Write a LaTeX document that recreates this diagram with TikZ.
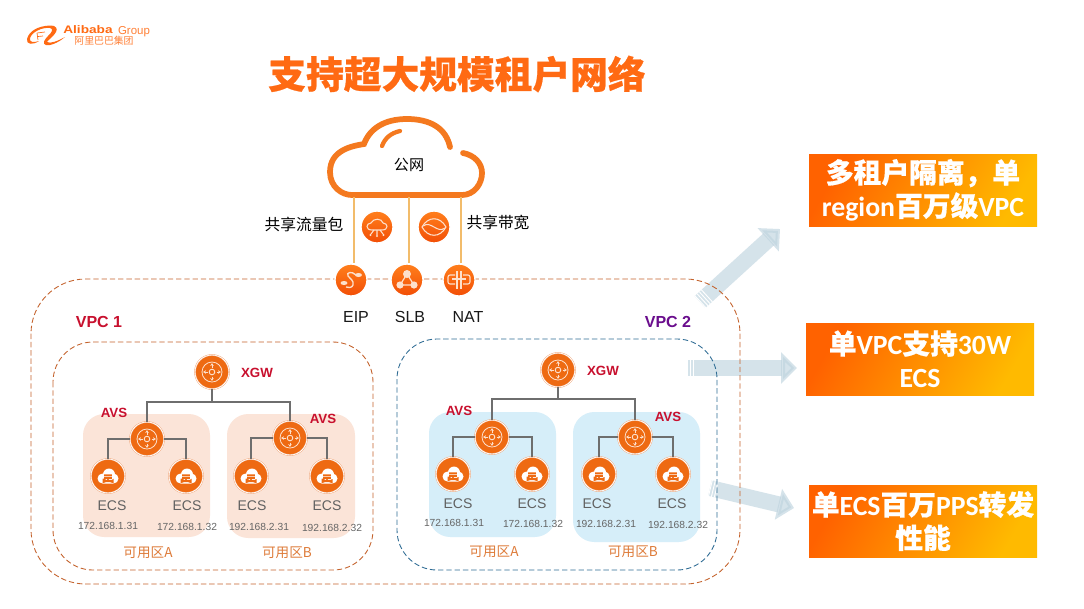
\documentclass[tikz,border=0pt]{standalone}
\usepackage{fontspec}
\setmainfont{Liberation Sans}
\newfontfamily\cjk[BoldFeatures={FakeBold=0.6}]{Noto Sans CJK SC}
\newfontfamily\latinbold{Carlito}
\newcommand{\lat}[1]{{\latinbold #1}}
\usepackage{tikz}
\usetikzlibrary{calc,positioning,arrows.meta}
\definecolor{aliorange}{HTML}{FF6A13}
\definecolor{cloudorange}{HTML}{F4791F}
\definecolor{iconorange}{HTML}{EE6A12}
\definecolor{iconlight}{HTML}{FF7F1C}
\definecolor{icondark}{HTML}{F24E06}
\definecolor{iconring}{HTML}{F0A070}
\definecolor{glyphpale}{HTML}{FDE0CC}
\definecolor{feedline}{HTML}{F2BC6B}
\definecolor{vpcorange}{HTML}{C4622C}
\definecolor{vpcblue}{HTML}{2F6C94}
\definecolor{zonepeach}{HTML}{FBE4D8}
\definecolor{zonesky}{HTML}{D6EEF9}
\definecolor{zonetext}{HTML}{DE7B39}
\definecolor{alertred}{HTML}{C8102E}
\definecolor{vpcpurple}{HTML}{6A0D8D}
\definecolor{boxorange}{HTML}{FF6200}
\definecolor{boxmid}{HTML}{FF9A0C}
\definecolor{boxamber}{HTML}{FFBA00}
\definecolor{flowblue}{HTML}{BFD4DF}
\definecolor{wiregrey}{HTML}{6E6E6E}
\tikzset{
  netnode/.style={circle,inner sep=0pt,minimum size=25.5pt,fill=iconorange,draw=iconring,double=white,double distance=0.6pt,line width=0.3pt},
  gradnode/.style={circle,inner sep=0pt,minimum size=24pt,top color=iconlight,bottom color=icondark,draw=white,line width=1pt},
  router/.style={netnode,path picture={
    \begin{scope}[shift={(path picture bounding box.center)},x=0.75pt,y=0.75pt]
      \draw[glyphpale,line width=0.6pt] (0,0) circle (10);
      \draw[glyphpale,line width=0.7pt] (0,0) circle (2.8);
      \foreach \a in {0,90,180,270}
        \draw[glyphpale,line width=0.6pt,-{Stealth[length=2pt,width=2.6pt]}] (\a:4.5) -- (\a:8.8);
    \end{scope}}},
  ecsicon/.style={netnode,path picture={
    \begin{scope}[shift={(path picture bounding box.center)},x=0.75pt,y=0.75pt]
      \fill[white] (-5.5,-2.5) circle (5) (5.5,-2.5) circle (5) (1,1.5) circle (6) (-5.5,-7.5) rectangle (5.5,-2.5);
      \fill[iconorange] (-3.8,-6) rectangle (3.8,-4) (-3.8,-3.2) rectangle (3.8,-1.2) (-3.8,-0.4) rectangle (3.8,1.6);
    \end{scope}}},
  flowicon/.style={gradnode,path picture={
    \begin{scope}[shift={(path picture bounding box.center)},x=0.75pt,y=0.75pt,glyphpale,line width=0.8pt]
      \draw (-5,-3) .. controls (-12,-3) and (-11,4) .. (-6,4) .. controls (-4,9) and (5,9) .. (6,4) .. controls (11,4) and (12,-3) .. (5,-3) -- cycle;
      \draw (0,-3) -- (0,-8) (-3,-3) -- (-6,-7) (3,-3) -- (6,-7);
      \fill (0,-9) circle (1.2) (-6.5,-8) circle (1.2) (6.5,-8) circle (1.2);
    \end{scope}}},
  bandicon/.style={gradnode,path picture={
    \begin{scope}[shift={(path picture bounding box.center)},x=0.75pt,y=0.75pt,glyphpale,line width=0.8pt]
      \draw (-12,0) .. controls (-6,11) and (6,11) .. (12,0) .. controls (6,-11) and (-6,-11) .. (-12,0) -- cycle;
      \draw (-11,1) .. controls (-3,7) and (3,-7) .. (11,-1);
    \end{scope}}},
  eipicon/.style={gradnode,path picture={
    \begin{scope}[shift={(path picture bounding box.center)},x=0.75pt,y=0.75pt,glyphpale,line width=1pt]
      \draw (5,5) .. controls (1,9) and (-5,8) .. (-3,4) .. controls (-1,1) and (3,0) .. (2,-5) .. controls (1,-8) and (-3,-8) .. (-5,-7);
      \fill[rotate around={35:(7.5,5)}] (7.5,5) ellipse (3.5 and 2);
      \fill[rotate around={35:(-7,-3)}] (-7,-3) ellipse (3.5 and 2);
    \end{scope}}},
  slbicon/.style={gradnode,path picture={
    \begin{scope}[shift={(path picture bounding box.center)},x=0.75pt,y=0.75pt,glyphpale,line width=0.9pt]
      \draw (0,6) -- (-7,-5) -- (7,-5) -- cycle;
      \fill (0,6) circle (4) (-7,-5) circle (3.6) (7,-5) circle (3.6);
    \end{scope}}},
  naticon/.style={gradnode,path picture={
    \begin{scope}[shift={(path picture bounding box.center)},x=0.75pt,y=0.75pt,glyphpale,line width=0.8pt]
      \draw[rounded corners=1.5pt] (-4,5) -- (-11,5) -- (-11,-4) -- (-4,-4);
      \draw[rounded corners=1.5pt] (4,5) -- (11,5) -- (11,-4) -- (4,-4);
      \draw (-2,9) -- (-2,-9) (2,9) -- (2,-9) (-7,1) -- (7,1);
    \end{scope}}},
  wire/.style={wiregrey,line width=0.95pt},
  feed/.style={feedline,line width=1.1pt},
  vpcframe/.style={dash pattern=on 4pt off 2.2pt,line width=0.65pt},
  zonebox/.style={rounded corners=16pt},
  ecstext/.style={text=black!62,font=\fontsize{10.5}{12}\selectfont},
  iptext/.style={text=black!60,font=\fontsize{7.7}{9}\selectfont},
  zonetitle/.style={text=zonetext,font=\cjk\fontsize{10.2}{12}\selectfont},
  redtag/.style={text=alertred,font=\bfseries\fontsize{10}{12}\selectfont},
  nettext/.style={text=black!90,font=\fontsize{12}{14}\selectfont},
  cjktext/.style={text=black,font=\cjk\fontsize{11.8}{14}\selectfont},
  benefit/.style={left color=boxorange,middle color=boxmid,right color=boxamber,shading angle=60,minimum width=171pt,minimum height=54pt,inner sep=0pt,align=center,text=white,font=\cjk\bfseries\fontsize{20.8}{25}\selectfont},
  flow/.style={flowblue,opacity=0.65,line width=12pt,-{Triangle[length=12pt,width=23pt]}},
  flowtail/.style={white,line width=12.4pt,dash pattern=on 0.7pt off 1.5pt}
}
\begin{document}
\begin{tikzpicture}[x=0.75pt,y=0.75pt,yscale=-1,xscale=1]
\useasboundingbox (0,0) rectangle (1084,608);
\fill[white] (0,0) rectangle (1084,608);

%Shape: Logo mark
\fill[aliorange] (27,39) .. controls (29,31) and (38,26) .. (50,25.5) .. controls (56,25) and (58,29) .. (56,32) .. controls (54,36) and (48,40) .. (47,42) .. controls (50,44) and (58,41) .. (65,37) .. controls (58,43) and (50,46) .. (46,45) .. controls (42,44) and (44,40) .. (48,36) .. controls (52,32) and (54,29) .. (50,28) .. controls (42,27) and (32,32) .. (30,38) .. controls (29,42) and (33,43) .. (39,41) .. controls (33,45) and (26,45) .. (27,39) -- cycle;
\draw[aliorange,line width=0.5pt] (37,33) -- (45,32) (37,33) -- (38,40) (38,36.5) -- (43,36);
% Text Node
\node (alibaba) [text=aliorange,xscale=1.25,font=\bfseries\fontsize{8.2}{10}\selectfont] at (88,30) {Alibaba};
\node (group) [text=aliorange!85,font=\fontsize{8.6}{10}\selectfont] at (134,31.5) {Group};
\node (alibabacn) [text=aliorange!85,font=\cjk\fontsize{7.4}{9}\selectfont] at (104,41) {阿里巴巴集团};
\node (title) [text=aliorange,font=\cjk\bfseries\fontsize{28.3}{32}\selectfont] at (457,74) {支持超大规模租户网络};

%Shape: Flow arrows
\coordinate (flowAs) at (700,302); \coordinate (flowAe) at (780,229);
\coordinate (flowBs) at (687,368); \coordinate (flowBe) at (797,368);
\coordinate (flowCs) at (710,488); \coordinate (flowCe) at (794,508);
\draw[flow] (flowAs) -- (flowAe);
\draw[flow] (flowBs) -- (flowBe);
\draw[flow] (flowCs) -- (flowCe);
\draw[flowtail] (flowAs) -- ($(flowAs)!0.1!(flowAe)$);
\draw[flowtail] (flowBs) -- ($(flowBs)!0.07!(flowBe)$);
\draw[flowtail] (flowCs) -- ($(flowCs)!0.09!(flowCe)$);

%Shape: VPC frames
\draw[vpcframe,vpcorange] (31,279) [rounded corners=41pt] rectangle (740,584);
\draw[vpcframe,vpcorange] (53,342) [rounded corners=30pt] rectangle (373,570);
\draw[vpcframe,vpcblue] (397,339) [rounded corners=30pt] rectangle (717,570);

%Shape: Zones
\fill[zonepeach,zonebox] (83,414) rectangle (210,537);
\fill[zonepeach,zonebox] (227,414) rectangle (355,538);
\fill[zonesky,zonebox] (429,412) rectangle (556,537);
\fill[zonesky,zonebox] (573,412) rectangle (700,542);

%Shape: Cloud
\draw[cloudorange,line width=4.3pt,line cap=round] (450,147) .. controls (446,128) and (430,119) .. (407,119) .. controls (385,119) and (370,128) .. (364,144) .. controls (352,146) and (330,150) .. (330,172) .. controls (330,187) and (342,195) .. (352,195) -- (462,195) .. controls (474,195) and (482,184) .. (482,173) .. controls (482,163) and (474,155) .. (463,153);
\draw[cloudorange,line width=3.2pt,line cap=round] (382,146) .. controls (385,138) and (391,133) .. (400,131);
\coordinate (cloudA) at (354,197); \coordinate (cloudB) at (409,197); \coordinate (cloudC) at (461,197);
\node (cloud) [cjktext,font=\cjk\fontsize{11.3}{14}\selectfont] at (409,165) {公网};

%Shape: Public services
\node (eip) [eipicon] at (351,280) {};
\node (slb) [slbicon] at (407,280) {};
\node (nat) [naticon] at (459,280) {};
\node (sharedflow) [flowicon] at (377,227) {};
\node (sharedband) [bandicon] at (434,227) {};
\draw[feed] (cloudA) -- (cloudA |- eip.north);
\draw[feed] (cloudB) -- (cloudB |- slb.north);
\draw[feed] (cloudC) -- (cloudC |- nat.north);

% Text Node
\node (sharedflowtext) [cjktext] at (304,224) {共享流量包};
\node (sharedbandtext) [cjktext] at (498,223) {共享带宽};
\node (eiptext) [nettext] at (356,317) {EIP};
\node (slbtext) [nettext] at (410,317) {SLB};
\node (nattext) [nettext] at (468,317) {NAT};
\node (vpconetext) [text=alertred,font=\bfseries\fontsize{12}{14}\selectfont] at (99,322) {VPC 1};
\node (vpctwotext) [text=vpcpurple,font=\bfseries\fontsize{12}{14}\selectfont] at (668,322) {VPC 2};

%Shape: VPC 1 nodes
\node (xgwA) [router] at (212,372) {};
\node (avsAa) [router] at (147,439) {};
\node (avsAb) [router] at (290,438) {};
\node (ecsAa) [ecsicon] at (108,476) {};
\node (ecsAb) [ecsicon] at (186,476) {};
\node (ecsAc) [ecsicon] at (251,476) {};
\node (ecsAd) [ecsicon] at (327,476) {};
\coordinate (busA) at (212,402);
\draw[wire] (xgwA.south) -- (busA);
\draw[wire] (avsAa.north) |- (busA);
\draw[wire] (avsAb.north) |- (busA);
\draw[wire] (ecsAa.north) |- (avsAa.west);
\draw[wire] (ecsAb.north) |- (avsAa.east);
\draw[wire] (ecsAc.north) |- (avsAb.west);
\draw[wire] (ecsAd.north) |- (avsAb.east);

%Shape: VPC 2 nodes
\node (xgwB) [router] at (558,370) {};
\node (avsBa) [router] at (492,437) {};
\node (avsBb) [router] at (635,437) {};
\node (ecsBa) [ecsicon] at (453,474) {};
\node (ecsBb) [ecsicon] at (532,474) {};
\node (ecsBc) [ecsicon] at (599,474) {};
\node (ecsBd) [ecsicon] at (673,474) {};
\coordinate (busB) at (558,399);
\draw[wire] (xgwB.south) -- (busB);
\draw[wire] (avsBa.north) |- (busB);
\draw[wire] (avsBb.north) |- (busB);
\draw[wire] (ecsBa.north) |- (avsBa.west);
\draw[wire] (ecsBb.north) |- (avsBa.east);
\draw[wire] (ecsBc.north) |- (avsBb.west);
\draw[wire] (ecsBd.north) |- (avsBb.east);

% Text Node
\node (xgwAtext) [redtag] at (257,373) {XGW};
\node (avsAatext) [redtag] at (114,413) {AVS};
\node (avsAbtext) [redtag] at (323,419) {AVS};
\node (ecsAatext) [ecstext] at (112,506) {ECS};
\node (ecsAbtext) [ecstext] at (187,506) {ECS};
\node (ecsActext) [ecstext] at (252,506) {ECS};
\node (ecsAdtext) [ecstext] at (327,506) {ECS};
\node (ipAa) [iptext] at (108,526) {172.168.1.31};
\node (ipAb) [iptext] at (187,527) {172.168.1.32};
\node (ipAc) [iptext] at (259,527) {192.168.2.31};
\node (ipAd) [iptext] at (332,528) {192.168.2.32};
\node (zoneAa) [zonetitle] at (148,553) {可用区A};
\node (zoneAb) [zonetitle] at (287,553) {可用区B};
% Text Node
\node (xgwBtext) [redtag] at (603,371) {XGW};
\node (avsBatext) [redtag] at (459,411) {AVS};
\node (avsBbtext) [redtag] at (668,417) {AVS};
\node (ecsBatext) [ecstext] at (458,504) {ECS};
\node (ecsBbtext) [ecstext] at (532,504) {ECS};
\node (ecsBctext) [ecstext] at (597,504) {ECS};
\node (ecsBdtext) [ecstext] at (672,504) {ECS};
\node (ipBa) [iptext] at (454,523) {172.168.1.31};
\node (ipBb) [iptext] at (533,524) {172.168.1.32};
\node (ipBc) [iptext] at (606,524) {192.168.2.31};
\node (ipBd) [iptext] at (678,525) {192.168.2.32};
\node (zoneBa) [zonetitle] at (494,552) {可用区A};
\node (zoneBb) [zonetitle] at (633,552) {可用区B};

%Shape: Benefit boxes
\node (benefitA) [benefit] at (923,190) {多租户隔离，单\\\lat{region}百万级\lat{VPC}};
\node (benefitB) [benefit] at (920,359) {单\lat{VPC}支持\lat{30W}\\\lat{ECS}};
\node (benefitC) [benefit] at (923,521) {单\lat{ECS}百万\lat{PPS}转发\\性能};

\end{tikzpicture}
\end{document}
